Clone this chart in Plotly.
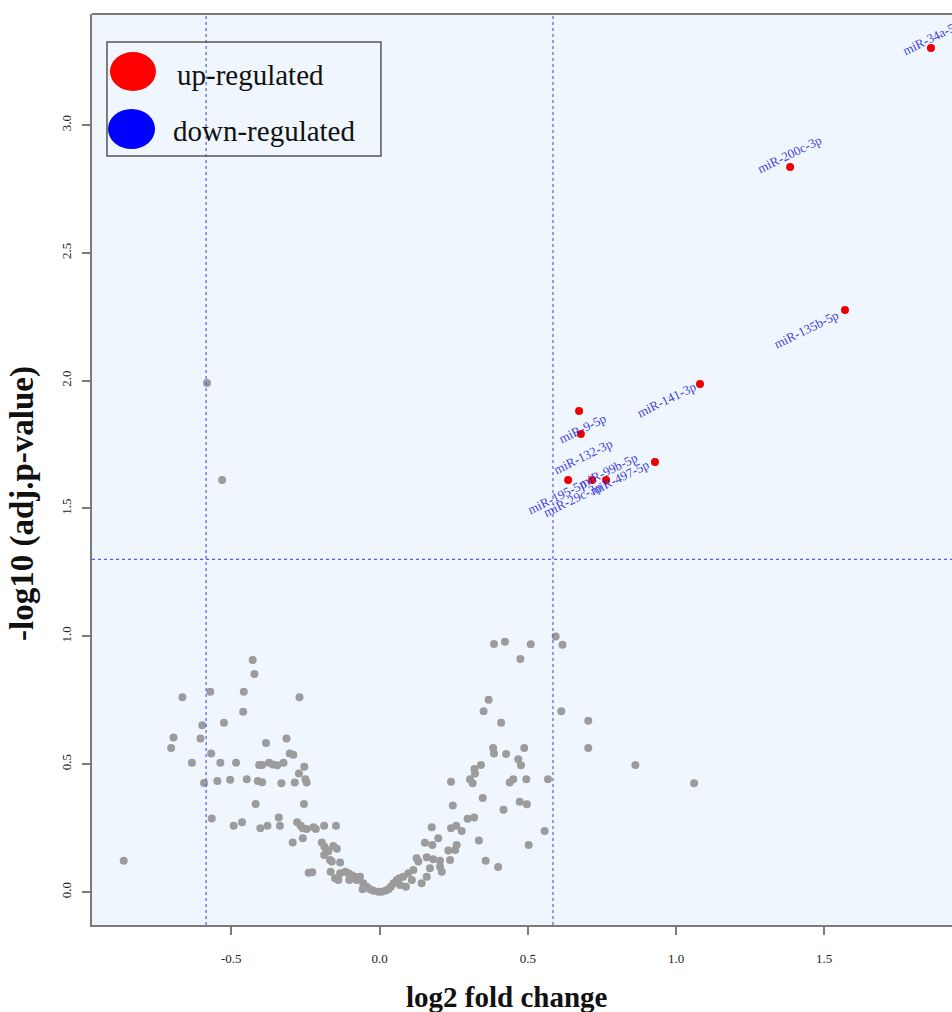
import plotly.graph_objects as go

# ---- data -------------------------------------------------------------
# non-significant miRNAs (grey)
gray_log2fc = [
    -0.863, -0.665, -0.695, -0.703, -0.633, -0.598, -0.604, -0.592, -0.571, -0.568,
    -0.566, -0.525, -0.537, -0.547, -0.504, -0.484, -0.492, -0.464, -0.448, -0.460,
    -0.458, -0.428, -0.422, -0.418, -0.411, -0.396, -0.406, -0.396, -0.402, -0.378,
    -0.383, -0.373, -0.360, -0.345, -0.324, -0.331, -0.340, -0.336, -0.314, -0.303,
    -0.291, -0.293, -0.286, -0.272, -0.270, -0.254, -0.255, -0.246, -0.250, -0.278,
    -0.266, -0.259, -0.246, -0.259, -0.223, -0.215, -0.187, -0.147, -0.239, -0.227,
    -0.195, -0.186, -0.178, -0.187, -0.156, -0.144, -0.173, -0.167, -0.161, -0.133,
    -0.165, -0.150, -0.139, -0.133, -0.116, -0.105, -0.094, -0.083, -0.102, -0.077,
    -0.066, -0.055, -0.057, -0.043, -0.032, -0.021, -0.004, 0.007, 0.019, 0.030,
    0.038, 0.047, 0.058, 0.067, -0.582, -0.531,
    0.386, 0.423, 0.510, 0.475, 0.594, 0.617, 0.368, 0.351, 0.410, 0.613,
    0.704, 0.704, 0.863, 1.061, 0.383, 0.386, 0.427, 0.488, 0.468, 0.477,
    0.342, 0.320, 0.322, 0.305, 0.314, 0.241, 0.247, 0.348, 0.439, 0.451,
    0.495, 0.568, 0.473, 0.497, 0.418, 0.297, 0.319, 0.176, 0.241, 0.259,
    0.277, 0.557, 0.335, 0.503, 0.153, 0.178, 0.198, 0.260, 0.255, 0.232,
    0.358, 0.400, 0.125, 0.159, 0.181, 0.204, 0.238, 0.131, 0.170, 0.204,
    0.210, 0.159, 0.142, 0.114, 0.097, 0.080, 0.089, 0.069, 0.109,
]
gray_neglog10p = [
    0.122, 0.762, 0.604, 0.563, 0.506, 0.652, 0.600, 0.426, 0.783, 0.542,
    0.288, 0.662, 0.506, 0.434, 0.439, 0.506, 0.259, 0.273, 0.441, 0.705,
    0.783, 0.907, 0.853, 0.344, 0.434, 0.429, 0.497, 0.497, 0.249, 0.259,
    0.583, 0.506, 0.499, 0.496, 0.506, 0.425, 0.291, 0.259, 0.600, 0.542,
    0.537, 0.194, 0.428, 0.464, 0.762, 0.490, 0.344, 0.428, 0.441, 0.273,
    0.259, 0.249, 0.246, 0.210, 0.253, 0.246, 0.259, 0.259, 0.075, 0.077,
    0.194, 0.177, 0.164, 0.145, 0.180, 0.169, 0.158, 0.125, 0.119, 0.115,
    0.079, 0.054, 0.047, 0.073, 0.079, 0.073, 0.066, 0.060, 0.047, 0.047,
    0.060, 0.034, 0.011, 0.021, 0.011, 0.005, 0.001, 0.001, 0.005, 0.011,
    0.021, 0.034, 0.047, 0.054, 1.991, 1.611,
    0.970, 0.979, 0.969, 0.911, 0.999, 0.967, 0.752, 0.707, 0.662, 0.707,
    0.670, 0.563, 0.497, 0.425, 0.563, 0.542, 0.540, 0.563, 0.519, 0.496,
    0.497, 0.481, 0.464, 0.441, 0.425, 0.431, 0.338, 0.368, 0.428, 0.441,
    0.441, 0.441, 0.353, 0.343, 0.322, 0.287, 0.291, 0.253, 0.249, 0.259,
    0.239, 0.239, 0.201, 0.184, 0.193, 0.184, 0.210, 0.184, 0.164, 0.162,
    0.122, 0.098, 0.132, 0.136, 0.128, 0.122, 0.125, 0.119, 0.093, 0.099,
    0.079, 0.060, 0.034, 0.086, 0.073, 0.060, 0.021, 0.027, 0.047,
]

# significantly up-regulated miRNAs (red)
up_names = ["miR-34a-5p", "miR-200c-3p", "miR-135b-5p", "miR-141-3p", "miR-9-5p",
            "miR-132-3p", "miR-497-5p", "miR-29c-3p", "miR-195-5p", "miR-99b-5p"]
up_log2fc = [1.860, 1.385, 1.570, 1.081, 0.673, 0.679, 0.929, 0.636, 0.717, 0.764]
up_neglog10p = [3.301, 2.836, 2.276, 1.987, 1.881, 1.791, 1.682, 1.611, 1.611, 1.611]

# significantly down-regulated miRNAs (blue) - none pass the cut-offs
down_names = []
down_log2fc = []
down_neglog10p = []

# cut-offs
fc_cut = 0.585      # log2(1.5)
p_cut = 1.301       # -log10(0.05)

x_ticks = [-0.5, 0.0, 0.5, 1.0, 1.5]
y_ticks = [0.0, 0.5, 1.0, 1.5, 2.0, 2.5, 3.0]

# label placement (pixel shift of each label centre from its point)
label_dx = [1, -1, -39, -33, 3, 2, -35, 4, -35, 2]
label_dy = [-11, -12, 19, 16, 17, 22, 16, 19, 16, -10]

# ---- figure -----------------------------------------------------------
SERIF = "Liberation Serif, Times New Roman, serif"
FRAME = "#7a7a7a"
GUIDE = "#5a5ae6"

fig = go.Figure()

fig.add_trace(go.Scatter(
    x=gray_log2fc, y=gray_neglog10p, mode="markers",
    marker=dict(color="#9c9c9c", size=8, line=dict(width=0)),
    showlegend=False, hoverinfo="skip"))

fig.add_trace(go.Scatter(
    x=up_log2fc, y=up_neglog10p, mode="markers", text=up_names,
    marker=dict(color="#ee0000", size=8, line=dict(width=0)),
    showlegend=False))

fig.add_trace(go.Scatter(
    x=down_log2fc, y=down_neglog10p, mode="markers", text=down_names,
    marker=dict(color="#0000ee", size=8, line=dict(width=0)),
    showlegend=False))

# threshold guides
for xv in (-fc_cut, fc_cut):
    fig.add_shape(type="line", xref="x", yref="paper", x0=xv, x1=xv, y0=0, y1=1,
                  line=dict(color=GUIDE, width=1.2, dash="3px,3px"))
fig.add_shape(type="line", xref="paper", yref="y", x0=0, x1=1, y0=p_cut, y1=p_cut,
              line=dict(color=GUIDE, width=1.2, dash="3px,3px"))

# top frame line
fig.add_shape(type="line", xref="paper", yref="paper", x0=0, x1=1, y0=1, y1=1,
              line=dict(color=FRAME, width=2))

# gene labels
for name, xv, yv, dx, dy in zip(up_names, up_log2fc, up_neglog10p, label_dx, label_dy):
    fig.add_annotation(x=xv, y=yv, text=name, showarrow=False, textangle=-26,
                       xshift=dx, yshift=-dy, xanchor="center", yanchor="middle",
                       font=dict(family=SERIF, size=13, color="rgba(40,40,215,0.9)"))

# legend box
fig.add_shape(type="rect", xref="paper", yref="paper",
              x0=0.0174, x1=0.3360, y0=0.8441, y1=0.9693,
              line=dict(color="#555555", width=1.5), fillcolor="rgba(0,0,0,0)")
fig.add_shape(type="circle", xref="paper", yref="paper",
              x0=0.0209, x1=0.0744, y0=0.9155, y1=0.9583,
              line=dict(width=0), fillcolor="#ff0000")
fig.add_shape(type="circle", xref="paper", yref="paper",
              x0=0.0186, x1=0.0733, y0=0.8518, y1=0.8957,
              line=dict(width=0), fillcolor="#0000ff")
fig.add_annotation(xref="paper", yref="paper", x=0.0965, y=0.9330, text="up-regulated",
                   showarrow=False, xanchor="left", yanchor="middle",
                   font=dict(family=SERIF, size=29, color="#111111"))
fig.add_annotation(xref="paper", yref="paper", x=0.0919, y=0.8716, text="down-regulated",
                   showarrow=False, xanchor="left", yanchor="middle",
                   font=dict(family=SERIF, size=29, color="#111111"))

# axis titles
fig.add_annotation(xref="paper", yref="paper", x=0.4826, y=-0.079, text="<b>log2 fold change</b>",
                   showarrow=False, xanchor="center", yanchor="middle",
                   font=dict(family=SERIF, size=29, color="#111111"))
fig.add_annotation(xref="paper", yref="paper", x=-0.0814, y=0.4632,
                   text="<b>-log10 (adj.p-value)</b>", textangle=-90,
                   showarrow=False, xanchor="center", yanchor="middle",
                   font=dict(family=SERIF, size=33, color="#111111"))

fig.update_layout(
    width=952, height=1012, autosize=False,
    margin=dict(l=92, r=0, t=14, b=87, pad=0),
    paper_bgcolor="white", plot_bgcolor="#eff6fd",
    showlegend=False,
    xaxis=dict(range=[-0.97, 1.931], tickvals=x_ticks,
               ticktext=[f"{v:.1f}" for v in x_ticks],
               showgrid=False, zeroline=False,
               showline=True, linecolor=FRAME, linewidth=2,
               ticks="outside", ticklen=8, tickwidth=1.5, tickcolor=FRAME,
               ticklabelstandoff=12,
               tickfont=dict(family=SERIF, size=13, color="#222222")),
    yaxis=dict(range=[-0.129, 3.434], tickvals=y_ticks,
               ticktext=[f"{v:.1f}" for v in y_ticks],
               showgrid=False, zeroline=False,
               showline=True, linecolor=FRAME, linewidth=2,
               ticks="outside", ticklen=8, tickwidth=1.5, tickcolor=FRAME,
               tickangle=-90, ticklabelstandoff=6,
               tickfont=dict(family=SERIF, size=13, color="#222222")),
)

fig.write_html("out.html")
